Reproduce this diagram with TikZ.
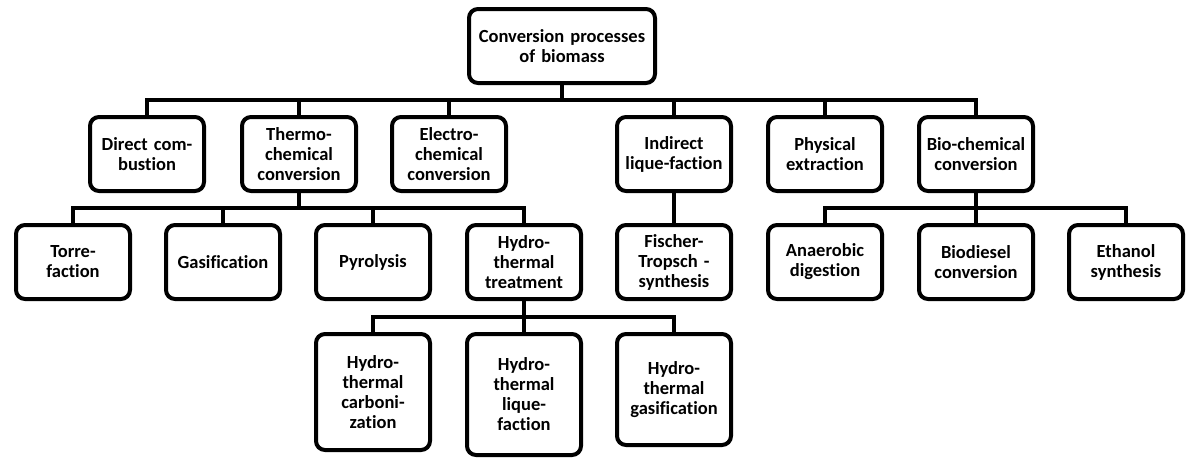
\documentclass[tikz,border=0pt]{standalone}
\usepackage{fontspec}
\setmainfont{Carlito}[Ligatures={NoCommon}]
\begin{document}
\begin{tikzpicture}[x=1pt,y=-1pt,
  box/.style={draw=black, line width=4pt, rounded corners=9pt, fill=white,
    minimum width=114pt, minimum height=74pt, inner sep=1pt,
    text width=110pt, align=center,
    font=\fontsize{18.5}{20}\selectfont\bfseries},
  conn/.style={draw=black, line width=4pt, line join=miter}]
\useasboundingbox (0,0) rectangle (1192,459);
% root
\node[box, minimum width=186pt, text width=180pt] (root) at (562,46) {Conversion processes\\of biomass};
% level 1
\node[box] (dc) at (147,154) {Direct com-\\bustion};
\node[box] (tc) at (299,154) {Thermo-\\chemical\\conversion};
\node[box] (ec) at (449,154) {Electro-\\chemical\\conversion};
\node[box] (il) at (674,154) {Indirect\\lique-faction};
\node[box] (pe) at (825,154) {Physical\\extraction};
\node[box] (bc) at (976,154) {Bio-chemical\\conversion};
% level 2
\node[box] (tf) at (73,262) {Torre-\\faction};
\node[box] (gs) at (223,262) {Gasification};
\node[box] (py) at (373,262) {Pyrolysis};
\node[box] (ht) at (524,262) {Hydro-\\thermal\\treatment};
\node[box] (ft) at (674,262) {Fischer-\\Tropsch -\\synthesis};
\node[box] (ad) at (825,262) {Anaerobic\\digestion};
\node[box] (bd) at (976,262) {Biodiesel\\conversion};
\node[box] (es) at (1126,262) {Ethanol\\synthesis};
% level 3
\node[box, minimum height=116pt] (hc) at (373,392) {Hydro-\\thermal\\carboni-\\zation};
\node[box, minimum height=121pt] (hl) at (524,394.5) {Hydro-\\thermal\\lique-\\faction};
\node[box, minimum height=111pt] (hg) at (674,389.5) {Hydro-\\thermal\\gasification};
% bus levels
\coordinate (b1) at (0,100);
\coordinate (b2) at (0,208);
\coordinate (b3) at (0,317);
% connectors
\foreach \c in {dc,tc,ec,il,pe,bc}
  \draw[conn] (root.south) -- (root.south |- b1) -| (\c.north);
\foreach \c in {tf,gs,py,ht}
  \draw[conn] (tc.south) -- (tc.south |- b2) -| (\c.north);
\draw[conn] (il.south) -- (ft.north);
\foreach \c in {ad,bd,es}
  \draw[conn] (bc.south) -- (bc.south |- b2) -| (\c.north);
\foreach \c in {hc,hl,hg}
  \draw[conn] (ht.south) -- (ht.south |- b3) -| (\c.north);
\end{tikzpicture}
\end{document}
